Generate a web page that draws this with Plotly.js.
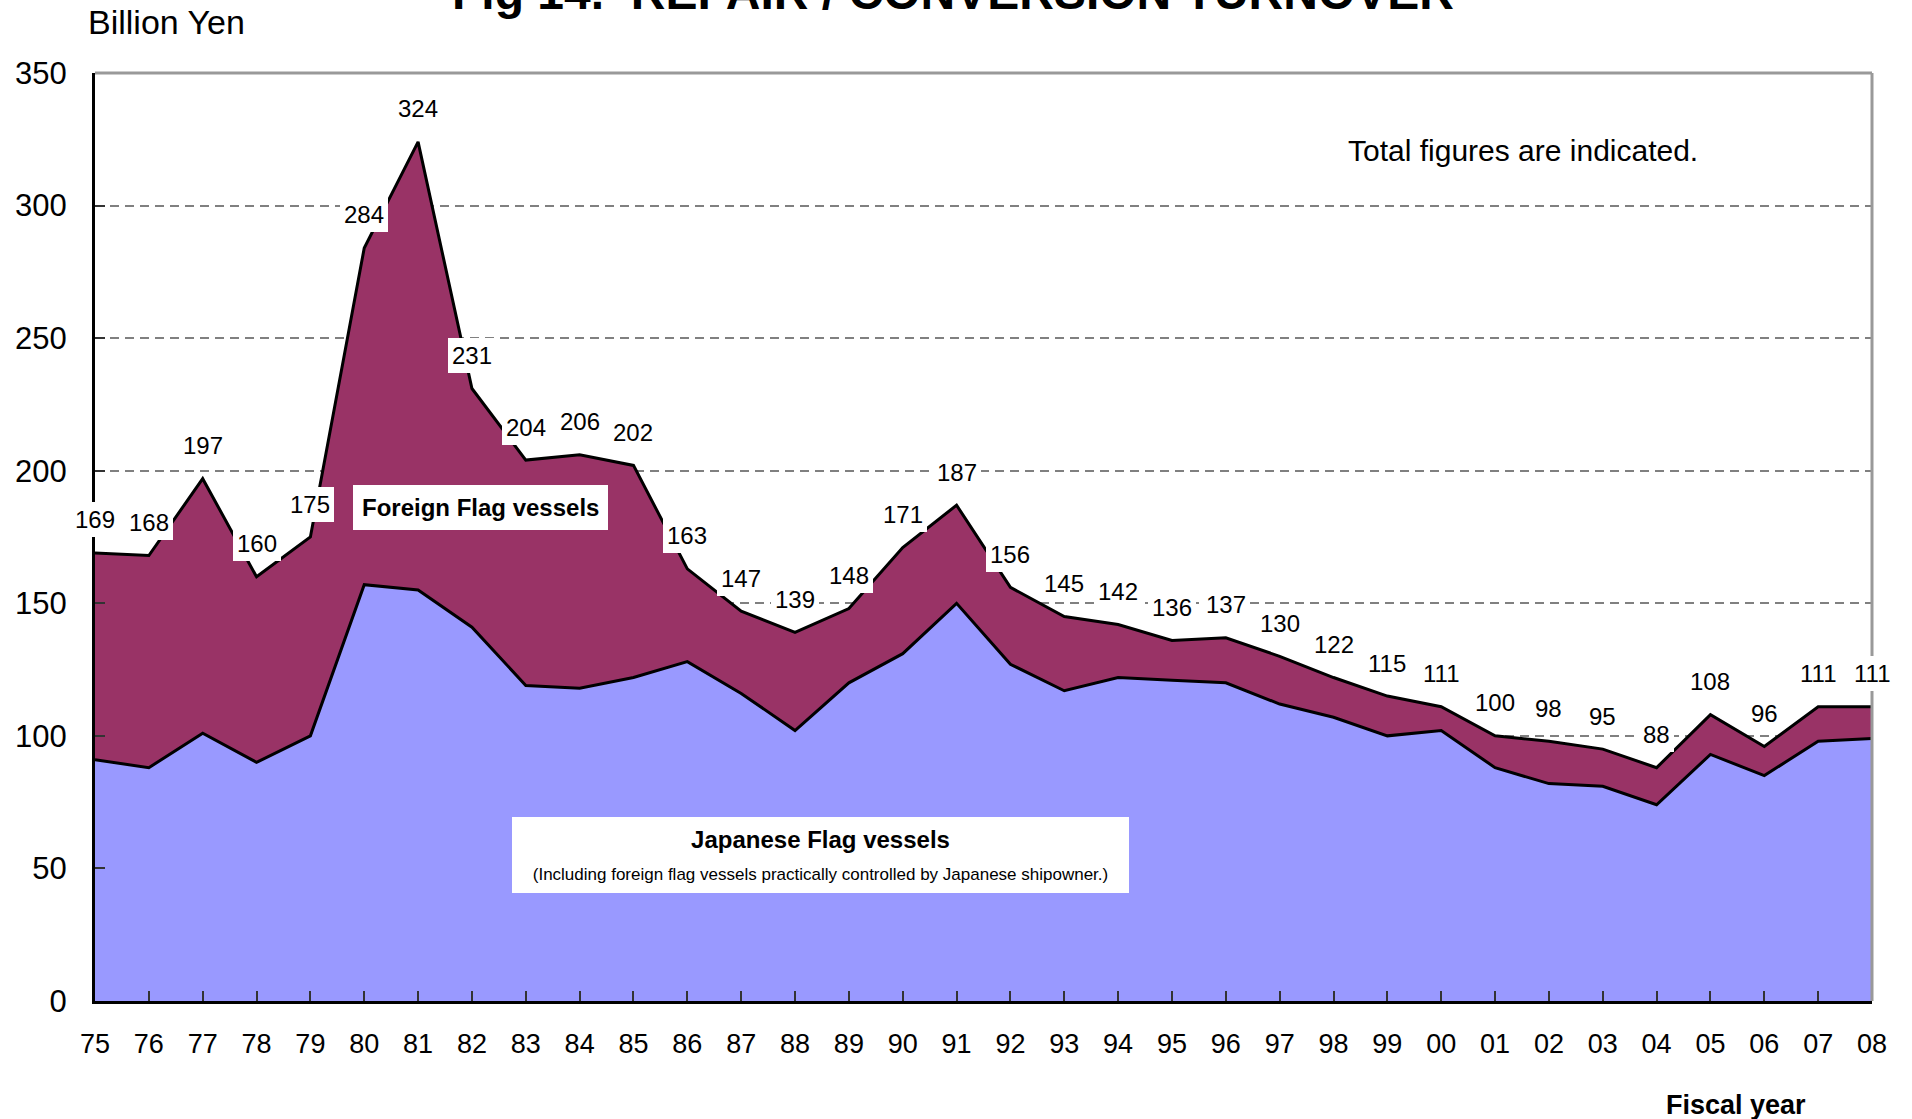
<!DOCTYPE html>
<html>
<head>
<meta charset="utf-8">
<script src="https://cdn.plot.ly/plotly-3.0.1.min.js"></script>
<style>
  html, body { margin: 0; padding: 0; background: #ffffff; }
  #chart { width: 1912px; height: 1119px; }
</style>
</head>
<body>
<div id="chart"></div>
<script>
// Fiscal years (category labels)
const years = ['75','76','77','78','79','80','81','82','83','84','85','86','87','88','89','90','91','92','93','94','95','96','97','98','99','00','01','02','03','04','05','06','07','08'];

// Total turnover (labelled figures), billion yen
const totals = [169,168,197,160,175,284,324,231,204,206,202,163,147,139,148,171,187,156,145,142,136,137,130,122,115,111,100,98,95,88,108,96,111,111];

// Japanese flag vessels (read from the lower area)
const japanese = [91,88,101,90,100,157,155,141,119,118,122,128,116,102,120,131,150,127,117,122,121,120,112,107,100,102,88,82,81,74,93,85,98,99];

// Foreign flag vessels (upper area thickness)
const foreign = [78,80,96,70,75,127,169,90,85,88,80,35,31,37,28,40,37,29,28,20,15,17,18,15,15,9,12,16,14,14,15,11,13,12];

const SANS = '"Liberation Sans", Arial, sans-serif';

const traces = [
  {
    x: years, y: japanese, type: 'scatter', mode: 'lines', stackgroup: 'one',
    name: 'Japanese Flag vessels',
    fillcolor: '#9999FF', line: { color: '#000000', width: 3 },
    hoverinfo: 'x+y'
  },
  {
    x: years, y: foreign, type: 'scatter', mode: 'lines', stackgroup: 'one',
    name: 'Foreign Flag vessels',
    fillcolor: '#993366', line: { color: '#000000', width: 3 },
    hoverinfo: 'x+y'
  }
];

const annotations = [];
years.forEach(function (yr, i) {
  annotations.push({
    x: i, y: totals[i], xref: 'x', yref: 'y',
    text: String(totals[i]), showarrow: false,
    yshift: 33, xanchor: 'center', yanchor: 'middle',
    bgcolor: '#ffffff', borderpad: 4, borderwidth: 0,
    font: { family: SANS, size: 24, color: '#000000' }
  });
});

annotations.push(
  {
    xref: 'paper', yref: 'paper', x: 0.483, y: 1.056, xanchor: 'center', yanchor: 'bottom',
    text: '<b>Fig 14.\u00a0\u00a0REPAIR / CONVERSION TURNOVER</b>', showarrow: false,
    font: { family: SANS, size: 48, color: '#000000' }
  },
  {
    xref: 'paper', yref: 'paper', x: 0.04, y: 1.055, xanchor: 'center', yanchor: 'middle',
    text: 'Billion Yen', showarrow: false,
    font: { family: SANS, size: 34, color: '#000000' }
  },
  {
    xref: 'paper', yref: 'paper', x: 0.8036, y: 0.916, xanchor: 'center', yanchor: 'middle',
    text: 'Total figures are indicated.', showarrow: false,
    font: { family: SANS, size: 30, color: '#000000' }
  },
  {
    xref: 'paper', yref: 'paper', x: 0.2167, y: 0.5313, xanchor: 'center', yanchor: 'middle',
    text: '<b>Foreign Flag vessels</b>', showarrow: false,
    bgcolor: '#ffffff', borderpad: 9, borderwidth: 0,
    font: { family: SANS, size: 24, color: '#000000' }
  },
  {
    xref: 'paper', yref: 'paper', x: 0.4083, y: 0.1573, xanchor: 'center', yanchor: 'middle',
    text: '<b>Japanese Flag vessels</b><br><span style="font-size:17px;font-weight:normal">(Including foreign flag vessels practically controlled by Japanese shipowner.)</span>',
    showarrow: false, width: 609, height: 68,
    bgcolor: '#ffffff', borderpad: 4, borderwidth: 0,
    font: { family: SANS, size: 24, color: '#000000' }
  },
  {
    xref: 'paper', yref: 'paper', x: 0.9235, y: -0.112, xanchor: 'center', yanchor: 'middle',
    text: '<b>Fiscal year</b>', showarrow: false,
    font: { family: SANS, size: 27, color: '#000000' }
  }
);

const layout = {
  width: 1912, height: 1119,
  margin: { l: 95, r: 40, t: 73, b: 118, pad: 0 },
  paper_bgcolor: '#ffffff', plot_bgcolor: '#ffffff',
  showlegend: false,
  xaxis: {
    type: 'category', range: [0, 33],
    showline: true, linecolor: '#000000', linewidth: 3,
    ticks: 'inside', ticklen: 10, tickwidth: 1.5, tickcolor: '#333333',
    tickfont: { family: SANS, size: 27, color: '#000000' },
    ticklabelstandoff: 17,
    showgrid: false, zeroline: false
  },
  yaxis: {
    range: [0, 350], tick0: 0, dtick: 50,
    showline: true, linecolor: '#000000', linewidth: 3,
    ticks: 'inside', ticklen: 10, tickwidth: 1.5, tickcolor: '#333333',
    tickfont: { family: SANS, size: 31, color: '#000000' },
    ticklabelstandoff: 19,
    showgrid: true, gridcolor: '#808080', gridwidth: 1.5, griddash: '9px,6px',
    zeroline: false
  },
  shapes: [
    { type: 'line', xref: 'paper', yref: 'paper', x0: 0, x1: 1, y0: 1, y1: 1, line: { color: '#999999', width: 3 } },
    { type: 'line', xref: 'paper', yref: 'paper', x0: 1, x1: 1, y0: 0, y1: 1, line: { color: '#999999', width: 3 } }
  ],
  annotations: annotations
};

Plotly.newPlot('chart', traces, layout, { displayModeBar: false, responsive: false });
</script>
</body>
</html>
